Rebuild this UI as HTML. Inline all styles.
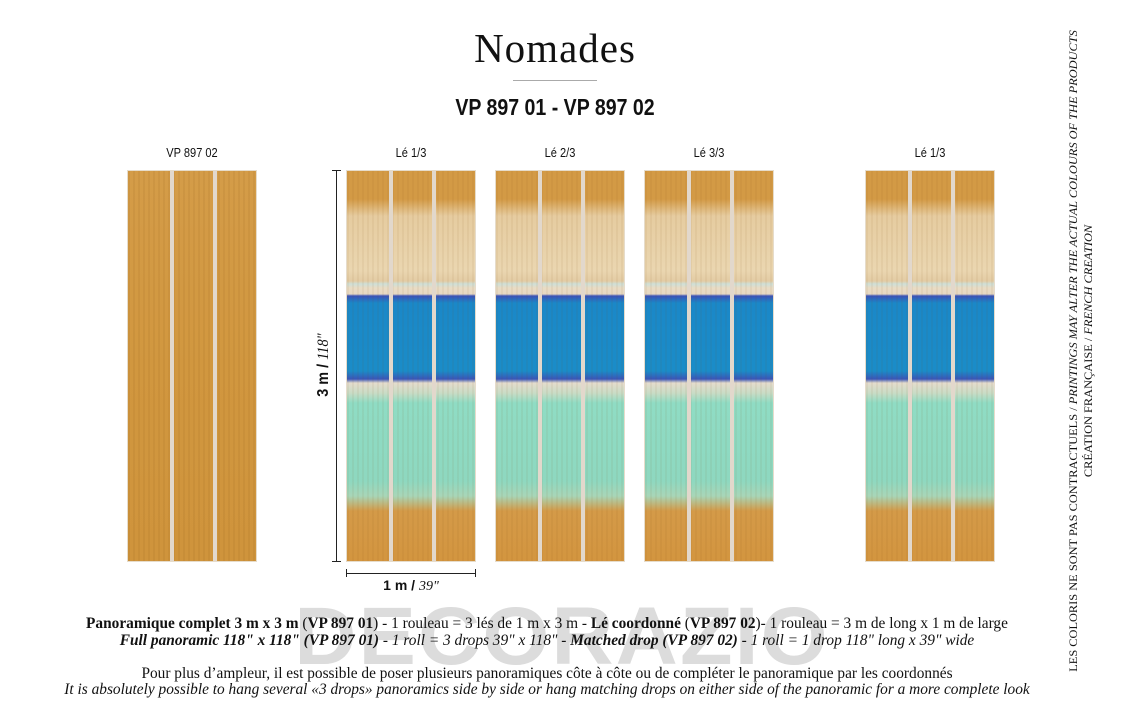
<!DOCTYPE html>
<html><head><meta charset="utf-8"><style>
body{margin:0;width:1123px;height:709px;background:#fff;position:relative;overflow:hidden;font-family:"Liberation Serif",serif;color:#111}
.a{position:absolute}
.p{position:absolute;top:170px;width:130px;height:392px;border:1px solid #e6dccb;box-sizing:border-box}
.p:before,.p:after{content:"";position:absolute;top:0;bottom:0;width:4px;background:#e2d8cc}
.p:before{left:42px}.p:after{left:85px}
.plain{background:repeating-linear-gradient(90deg,rgba(120,70,10,.08) 0 2px,transparent 2px 5px),linear-gradient(#d49c48,#d1973f 50%,#cf943c)}
.art{background:repeating-linear-gradient(90deg,rgba(120,70,10,.06) 0 2px,transparent 2px 5px),linear-gradient(#d39a45 0,#d39a45 28px,#e6cca0 45px,#ead6b0 100px,#e3cca4 110px,#cfe0d8 113px,#e9dcc4 117px,#e7d9c3 123px,#3b53b8 125px,#1a88c8 132px,#1a8cc8 200px,#3a56b8 208px,#e4dccd 212px,#c9dcc6 222px,#8fdcc4 232px,#8ed8c0 310px,#a8d6b8 325px,#d49a48 340px,#d3953f 392px)}
.lab{position:absolute;top:145px;font:13px "Liberation Sans",sans-serif;transform:scaleX(.85);text-align:center;width:130px}
.t{position:absolute;left:0;width:1094px;text-align:center;font-size:16px;white-space:nowrap;transform:scaleX(.96);transform-origin:547px 0}
</style></head><body>
<div class="a" style="left:0;width:1110px;top:24px;text-align:center;font-size:41px;letter-spacing:1px">Nomades</div>
<div class="a" style="left:513px;top:80px;width:84px;height:1px;background:#aaa"></div>
<div class="a" style="left:0;width:1110px;top:94px;text-align:center;font:bold 23px 'Liberation Sans',sans-serif;transform:scaleX(.85)">VP 897 01 - VP 897 02</div>
<div class="lab" style="left:127px">VP 897 02</div>
<div class="lab" style="left:346px">Lé 1/3</div>
<div class="lab" style="left:495px">Lé 2/3</div>
<div class="lab" style="left:644px">Lé 3/3</div>
<div class="lab" style="left:865px">Lé 1/3</div>
<div class="p plain" style="left:127px"></div>
<div class="p art" style="left:346px"></div>
<div class="p art" style="left:495px"></div>
<div class="p art" style="left:644px"></div>
<div class="p art" style="left:865px"></div>
<div class="a" style="left:336px;top:170px;width:1px;height:392px;background:#222"></div>
<div class="a" style="left:332px;top:170px;width:9px;height:1px;background:#222"></div>
<div class="a" style="left:332px;top:561px;width:9px;height:1px;background:#222"></div>
<div class="a" style="left:254px;top:356px;width:140px;text-align:center;transform:rotate(-90deg) scaleX(.9);font:bold 16px 'Liberation Sans',sans-serif">3 m / <i style="font-weight:normal;font-family:'Liberation Serif'">118"</i></div>
<div class="a" style="left:346px;top:573px;width:130px;height:1px;background:#222"></div>
<div class="a" style="left:346px;top:569px;width:1px;height:8px;background:#222"></div>
<div class="a" style="left:475px;top:569px;width:1px;height:8px;background:#222"></div>
<div class="a" style="left:346px;top:577px;width:130px;text-align:center;font:bold 14px 'Liberation Sans',sans-serif">1 m / <i style="font-weight:normal;font-family:'Liberation Serif'">39"</i></div>
<div class="a" style="left:272px;top:590px;width:580px;text-align:center;font:bold 82px 'Liberation Sans',sans-serif;color:#dcdcdc;letter-spacing:2px;transform:scaleX(1.05)">DECORAZIO</div>
<div class="t" style="top:615px"><b>Panoramique complet 3 m x 3 m</b> (<b>VP 897 01</b>) - 1 rouleau = 3 lés de 1 m x 3 m - <b>Lé coordonné</b> (<b>VP 897 02</b>)- 1 rouleau = 3 m de long x 1 m de large</div>
<div class="t" style="top:632px"><i><b>Full panoramic 118" x 118" (VP 897 01)</b> - 1 roll = 3 drops 39" x 118" - <b>Matched drop (VP 897 02)</b> - 1 roll = 1 drop 118" long x 39" wide</i></div>
<div class="t" style="top:665px">Pour plus d’ampleur, il est possible de poser plusieurs panoramiques côte à côte ou de compléter le panoramique par les coordonnés</div>
<div class="t" style="top:681px"><i>It is absolutely possible to hang several «3 drops» panoramics side by side or hang matching drops on either side of the panoramic for a more complete look</i></div>
<div class="a" style="left:1081px;top:352px;width:0;height:0"><div style="position:absolute;left:-330px;top:-16px;width:660px;transform:rotate(-90deg) scaleX(1.03);text-align:center;font-size:12px;line-height:15px;white-space:nowrap">LES COLORIS NE SONT PAS CONTRACTUELS / <i>PRINTINGS MAY ALTER THE ACTUAL COLOURS OF THE PRODUCTS</i><br>CRÉATION FRANÇAISE / <i>FRENCH CREATION</i></div></div>
</body></html>
